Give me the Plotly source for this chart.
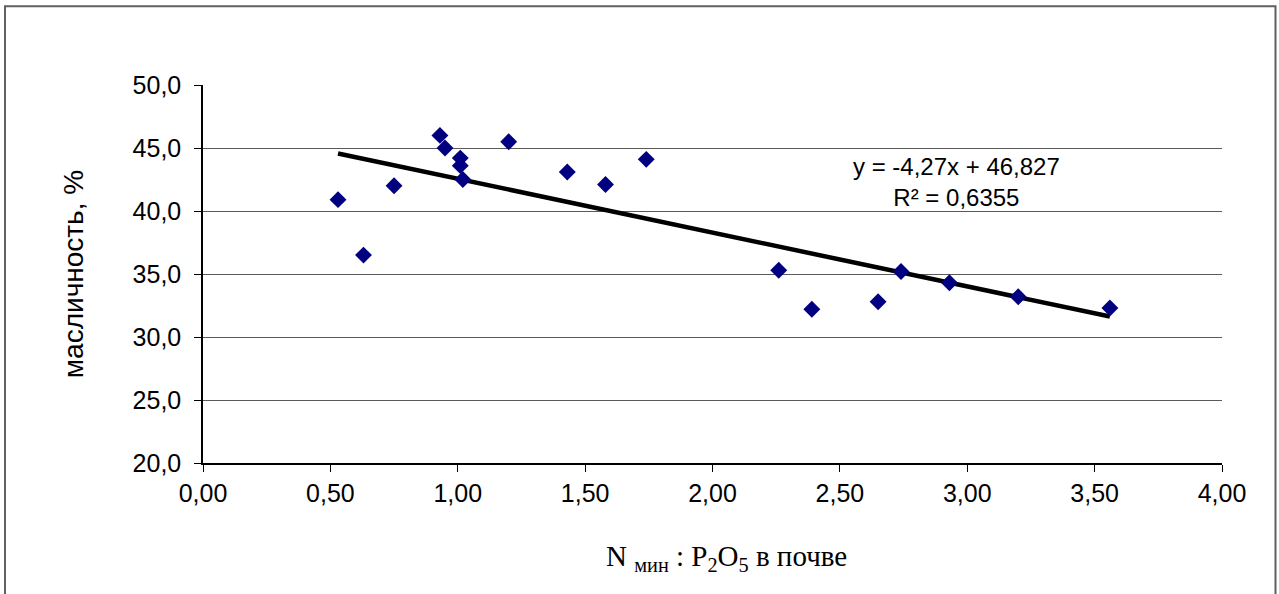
import plotly.graph_objects as go

# Ratio of mineral N to P2O5 in soil vs. oil content of seeds
ratio = [0.53, 0.63, 0.75, 0.93, 0.95, 1.01, 1.01, 1.02, 1.20, 1.43,
         1.58, 1.74, 2.26, 2.39, 2.65, 2.74, 2.93, 3.20, 3.56]
oil = [40.9, 36.5, 42.0, 46.0, 45.0, 44.2, 43.6, 42.5, 45.5, 43.1,
       42.1, 44.1, 35.3, 32.2, 32.8, 35.2, 34.3, 33.2, 32.3]

# Linear trend parameters
slope = -4.27
intercept = 46.827
r2 = 0.6355

x_ticks = [0.0, 0.5, 1.0, 1.5, 2.0, 2.5, 3.0, 3.5, 4.0]
x_tick_text = ["0,00", "0,50", "1,00", "1,50", "2,00", "2,50", "3,00", "3,50", "4,00"]
y_ticks = [20, 25, 30, 35, 40, 45, 50]
y_tick_text = ["20,0", "25,0", "30,0", "35,0", "40,0", "45,0", "50,0"]

trend_x = [min(ratio), max(ratio)]
trend_y = [slope * v + intercept for v in trend_x]

SANS = "Liberation Sans, Arial, sans-serif"
SERIF = "Liberation Serif, Times New Roman, serif"

fig = go.Figure()
fig.add_trace(go.Scatter(
    x=trend_x, y=trend_y, mode="lines",
    line=dict(color="black", width=4.5),
    hoverinfo="skip", showlegend=False,
))
fig.add_trace(go.Scatter(
    x=ratio, y=oil, mode="markers",
    marker=dict(symbol="diamond", size=13, color="#000080",
                line=dict(width=0)),
    showlegend=False,
))

# Trend equation label
fig.add_annotation(
    x=0.739, y=0.743, xref="paper", yref="paper",
    xanchor="center", yanchor="middle",
    text=f"y = {slope:.2f}x + {intercept:.3f}".replace(".", ",")
         + "<br>" + f"R² = {r2:.4f}".replace(".", ","),
    showarrow=False, align="center",
    font=dict(family=SANS, size=24, color="black"),
)

# X axis title
fig.add_annotation(
    x=0.514, y=-0.252, xref="paper", yref="paper",
    xanchor="center", yanchor="middle",
    text="N <sub>мин</sub> : P<sub>2</sub>O<sub>5</sub> в почве",
    showarrow=False,
    font=dict(family=SERIF, size=29, color="black"),
)

# Outer chart frame
fig.add_shape(type="rect", xref="paper", yref="paper",
              x0=-0.1943, x1=1.0525, y0=-0.38, y1=1.2085,
              line=dict(color="#606060", width=2), layer="below")

fig.update_layout(
    width=1279, height=594,
    margin=dict(l=203, r=57, t=85, b=131),
    paper_bgcolor="white", plot_bgcolor="white",
    font=dict(family=SANS, size=25, color="black"),
    xaxis=dict(
        range=[0, 4], tickvals=x_ticks, ticktext=x_tick_text,
        showgrid=False, zeroline=False,
        showline=True, linecolor="black", linewidth=1.5,
        ticks="outside", ticklen=7, tickcolor="black",
        tickfont=dict(size=25),
    ),
    yaxis=dict(
        range=[20, 50], tickvals=y_ticks, ticktext=y_tick_text,
        showgrid=True, gridcolor="#5a5a5a", gridwidth=1,
        zeroline=False,
        showline=True, linecolor="black", linewidth=1.5,
        ticks="outside", ticklen=7, tickcolor="black",
        tickfont=dict(size=25), ticklabelstandoff=8,
        title=dict(text="масличность, %", font=dict(size=28), standoff=41),
    ),
)

fig.write_html("out.html")
